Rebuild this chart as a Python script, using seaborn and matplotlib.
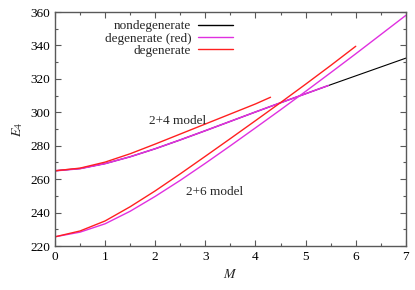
import numpy as np
import pandas as pd
import seaborn as sns
import matplotlib
matplotlib.use("Agg")
import matplotlib.pyplot as plt
from matplotlib.ticker import MultipleLocator

# nondegenerate, 2+4 model
M_nondeg = [0, 0.5, 1, 1.5, 2, 2.5, 3, 3.5, 4, 4.5, 5, 5.5, 6, 6.5, 7]
E_nondeg = [265, 266.3, 269.3, 273.4, 278.2, 283.5, 289, 294.6, 300.2, 305.7, 311.1, 316.5, 321.8, 327.1, 332.4]

# degenerate (red) -> drawn in magenta
M_degred_24 = [0, 0.5, 1, 1.5, 2, 2.5, 3, 3.5, 4, 4.5, 5, 5.45]
E_degred_24 = [265, 266.3, 269.3, 273.4, 278.2, 283.5, 289, 294.6, 300.2, 305.7, 311.1, 316]
M_degred_26 = [0, 0.5, 1, 1.5, 2, 2.5, 3, 3.5, 4, 4.5, 5, 5.5, 6, 6.5, 7]
E_degred_26 = [225.5, 228.3, 233.3, 240.8, 249.7, 259.3, 269.5, 280, 290.7, 301.5, 312.5, 323.7, 335, 346.5, 358]

# degenerate -> drawn in red
M_deg_24 = [0, 0.5, 1, 1.5, 2, 2.5, 3, 3.5, 4, 4.3]
E_deg_24 = [265, 266.6, 270.2, 275.2, 281, 287, 293, 299, 305, 309]
M_deg_26 = [0, 0.5, 1, 1.5, 2, 2.5, 3, 3.5, 4, 4.5, 5, 5.5, 6]
E_deg_26 = [225.5, 229, 235, 243.5, 253, 263.2, 273.7, 284.3, 295, 305.8, 316.8, 328, 339.5]

sns.set_style("ticks")
plt.rcParams['font.family'] = ['Liberation Serif', 'DejaVu Serif']
plt.rcParams['mathtext.fontset'] = 'stix'

fig = plt.figure(figsize=(4.15, 2.9), dpi=100)
ax = fig.add_axes([0.1325, 0.1517, 0.8455, 0.8069])

black = '#000000'
magenta = '#e030e0'
red = '#ff2020'

sns.lineplot(x=M_nondeg, y=E_nondeg, ax=ax, color=black, lw=0.8, sort=False, label='nondegenerate')
sns.lineplot(x=M_degred_24, y=E_degred_24, ax=ax, color=magenta, lw=1.2, sort=False, label='degenerate (red)')
sns.lineplot(x=M_degred_26, y=E_degred_26, ax=ax, color=magenta, lw=1.0, sort=False)
sns.lineplot(x=M_deg_24, y=E_deg_24, ax=ax, color=red, lw=1.0, sort=False, label='degenerate')
sns.lineplot(x=M_deg_26, y=E_deg_26, ax=ax, color=red, lw=1.0, sort=False)

ax.set_xlim(0, 7)
ax.set_ylim(220, 360)
ax.xaxis.set_major_locator(MultipleLocator(1))
ax.xaxis.set_minor_locator(MultipleLocator(0.5))
ax.yaxis.set_major_locator(MultipleLocator(20))
ax.yaxis.set_minor_locator(MultipleLocator(10))
ax.tick_params(which='both', direction='in', top=True, right=True, labelsize=9.5, colors='0.35', labelcolor='black')
ax.tick_params(which='major', length=4.5, width=0.8)
ax.tick_params(which='minor', length=2.5, width=0.8)
for s in ax.spines.values():
    s.set_color('0.35')
    s.set_linewidth(1.0)

ax.set_xlabel('$M$', fontsize=10)
ax.set_ylabel('$E_4$', fontsize=10)

ax.text(2.45, 294.5, '2+4 model', ha='center', va='center', fontsize=9.5)
ax.text(3.19, 252.3, '2+6 model', ha='center', va='center', fontsize=9.5)

leg = ax.legend(loc='upper right', bbox_to_anchor=(0.535, 1.005), frameon=False, markerfirst=False,
                fontsize=9.5, handlelength=2.7, handletextpad=0.5, labelspacing=0.0, borderpad=0.2)
for h in leg.get_lines():
    h.set_linewidth(1.0)

fig.savefig('out.png', dpi=100)
